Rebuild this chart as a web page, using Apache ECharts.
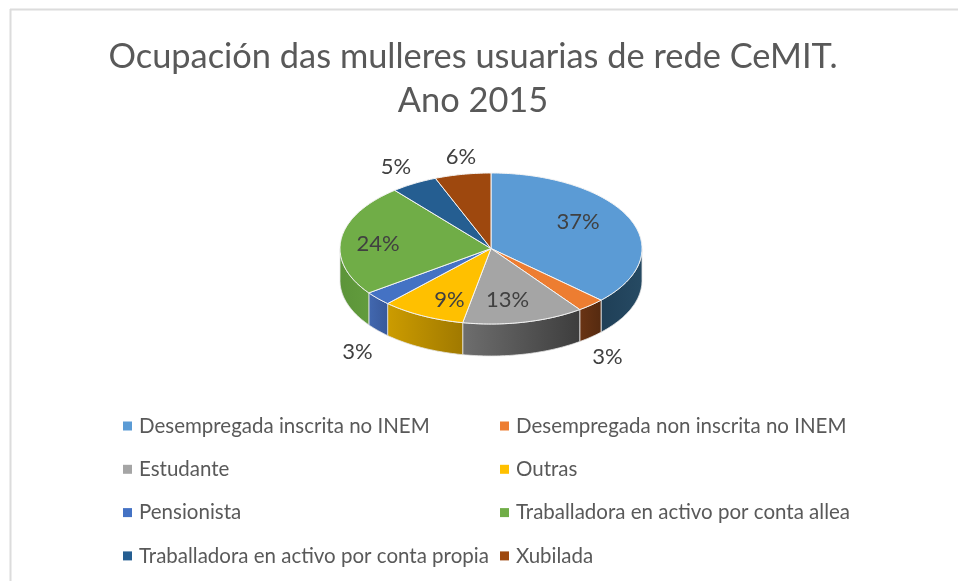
<!DOCTYPE html>
<html><head><meta charset="utf-8">
<style>html,body{margin:0;padding:0;background:#fff}#c{width:958px;height:581px}</style>
<script src="https://cdn.jsdelivr.net/npm/echarts@6/dist/echarts.min.js"></script>
</head><body><div id="c"></div>
<script>
const categories = ["Desempregada inscrita no INEM","Desempregada non inscrita no INEM","Estudante","Outras","Pensionista","Traballadora en activo por conta allea","Traballadora en activo por conta propia","Xubilada"];
const values = [37,3,13,9,3,24,5,6];
const colors = ["#5B9BD5","#ED7D31","#A5A5A5","#FFC000","#4472C4","#70AD47","#255E91","#9E480E"];
const wallColors = [["#1f3f57","#264a63"],["#6a3414","#552a10"],["#6e6e6e","#3d3d3d"],["#cc9c00","#a07900"],["#4268b0","#38599a"],["#5c9439","#629c3d"],["#1d4a70","#1d4a70"],["#7a380b","#7a380b"]];
const labelOffsets = [[87,-27],[116.5,108.5],[16.5,51],[-41.5,51],[-133.5,103.5],[-113,-5],[-95,-81.5],[-30,-91.5]];
const cx=491, cy=248.5, rx=151, ry=75.5, depth=32;
const total = values.reduce((a,b)=>a+b,0);
const starts = []; values.reduce((a,v,i)=>{starts[i]=a;return a+v;},0);
function pt(deg,dy){const t=deg*Math.PI/180;return [cx+rx*Math.sin(t),cy-ry*Math.cos(t)+(dy||0)];}
function arc(a,b,dy){const n=Math.max(2,Math.ceil(Math.abs(b-a)));const p=[];for(let i=0;i<=n;i++)p.push(pt(a+(b-a)*i/n,dy));return p;}
function render(i){
  return function(params,api){
    const a=starts[i]/total*360, b=a+api.value(0)/total*360;
    const children=[];
    const lo=Math.max(a,90), hi=Math.min(b,270);
    if(lo<hi){
      children.push({type:'polygon',shape:{points:arc(lo,hi,0).concat(arc(hi,lo,depth))},
        style:{fill:{type:'linear',x:0,y:0,x2:1,y2:0,colorStops:[{offset:0,color:wallColors[i][0]},{offset:1,color:wallColors[i][1]}]},stroke:'#e4e4e4',lineWidth:0.8},z2:1});
    }
    children.push({type:'polygon',shape:{points:[[cx,cy]].concat(arc(a,b,0))},
      style:{fill:colors[i],stroke:'#f4f4f4',lineWidth:1},z2:2});
    children.push({type:'text',z2:50,style:{text:values[i]+'%',x:cx+labelOffsets[i][0],y:cy+labelOffsets[i][1],
      fill:'#404040',font:'22px Lato',align:'center',verticalAlign:'middle'}});
    return {type:'group',children:children};
  };
}
const chart=echarts.init(document.getElementById('c'),null,{renderer:'canvas'});
const legendBase={orient:'vertical',icon:'rect',itemWidth:9,itemHeight:9,itemGap:22.3,selectedMode:false,
  textStyle:{color:'#595959',fontFamily:'Lato',fontSize:20.5,padding:[0,0,0,2],lineHeight:20}};
chart.setOption({
  animation:false,
  backgroundColor:'#fff',
  title:{text:"Ocupación das mulleres usuarias de rede CeMIT.\nAno 2015",left:468,top:30,textAlign:'center',
    textStyle:{color:'#595959',fontFamily:'Lato',fontSize:34.4,fontWeight:'normal',lineHeight:44}},
  graphic:[
    {type:'line',shape:{x1:10,y1:9.5,x2:958,y2:9.5},style:{stroke:'#dcdcdc',lineWidth:2},silent:true},
    {type:'line',shape:{x1:10.5,y1:9,x2:10.5,y2:581},style:{stroke:'#dcdcdc',lineWidth:2},silent:true}
  ],
  legend:[
    Object.assign({},legendBase,{left:118,top:410.5,data:categories.filter((c,i)=>i%2===0)}),
    Object.assign({},legendBase,{left:495,top:410.5,data:categories.filter((c,i)=>i%2===1)})
  ],
  series:categories.map((name,i)=>({type:'custom',name:name,coordinateSystem:'none',silent:true,
    itemStyle:{color:colors[i]},data:[values[i]],renderItem:render(i)}))
});
</script></body></html>
